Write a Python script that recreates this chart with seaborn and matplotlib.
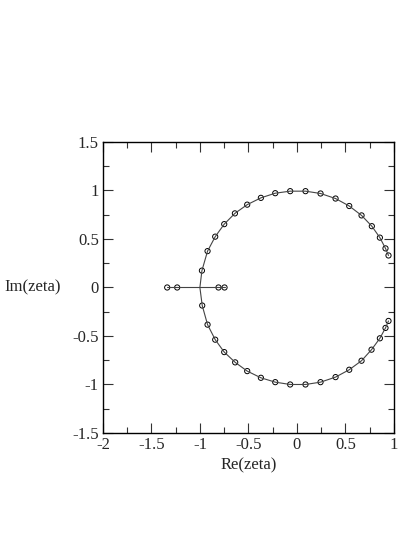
import numpy as np
import pandas as pd
import matplotlib
matplotlib.use('Agg')
import matplotlib.pyplot as plt
import seaborn as sns

# zeros on the unit circle, upper then lower half
re_upper = [-0.979, -0.921, -0.842, -0.749, -0.639, -0.512, -0.371, -0.223, -0.069,
            0.089, 0.244, 0.399, 0.540, 0.667, 0.773, 0.856, 0.914, 0.945]
im_upper = [0.174, 0.375, 0.524, 0.653, 0.764, 0.854, 0.924, 0.972, 0.993,
            0.993, 0.969, 0.917, 0.840, 0.743, 0.632, 0.514, 0.403, 0.330]
re_lower = [-0.976, -0.921, -0.842, -0.749, -0.636, -0.512, -0.371, -0.223, -0.069,
            0.089, 0.244, 0.399, 0.540, 0.667, 0.770, 0.856, 0.914, 0.945]
im_lower = [-0.186, -0.383, -0.538, -0.666, -0.772, -0.862, -0.931, -0.976, -1.0,
            -1.0, -0.976, -0.924, -0.848, -0.755, -0.641, -0.524, -0.417, -0.345]

# points on the real axis
re_axis = [-1.337, -1.234, -0.808, -0.746]
im_axis = [0.0, 0.0, 0.0, 0.0]

sns.set_style('ticks')
plt.rcParams['font.family'] = ['Liberation Serif', 'DejaVu Serif']
plt.rcParams['axes.unicode_minus'] = False

fig = plt.figure(figsize=(4.15, 5.37), dpi=100)
ax = fig.add_axes([0.248, 0.1937, 0.701, 0.5419])

# circle path: upper half reversed, through -1, then lower half
circ = pd.DataFrame({
    're': re_upper[::-1] + [-1.0] + re_lower,
    'im': im_upper[::-1] + [0.0] + im_lower,
})
sns.lineplot(data=circ, x='re', y='im', sort=False, estimator=None, errorbar=None,
             color='#444444', linewidth=0.8, ax=ax)

pts = pd.DataFrame({'re': re_upper + re_lower, 'im': im_upper + im_lower})
sns.scatterplot(data=pts, x='re', y='im', marker='o', s=14, facecolors='none',
                edgecolor='black', linewidth=0.7, ax=ax)

axis_df = pd.DataFrame({'re': re_axis, 'im': im_axis})
sns.lineplot(data=axis_df, x='re', y='im', sort=False, estimator=None, errorbar=None,
             color='#444444', linewidth=0.8, ax=ax)
sns.scatterplot(data=axis_df, x='re', y='im', marker='o', s=14, facecolors='none',
                edgecolor='black', linewidth=0.7, ax=ax)

ax.set_xlim(-2, 1)
ax.set_ylim(-1.5, 1.5)
ax.set_xticks(np.arange(-2, 1.01, 0.5))
ax.set_yticks(np.arange(-1.5, 1.51, 0.5))
ax.set_xticks(np.arange(-2, 1.01, 0.25), minor=True)
ax.set_yticks(np.arange(-1.5, 1.51, 0.25), minor=True)
ax.set_xticklabels(['-2', '-1.5', '-1', '-0.5', '0', '0.5', '1'])
ax.set_yticklabels(['-1.5', '-1', '-0.5', '0', '0.5', '1', '1.5'])
ax.tick_params(which='both', direction='in', top=True, right=True,
               labelsize=12, pad=3, width=0.8, color='#333333')
ax.tick_params(which='major', length=7)
ax.tick_params(which='minor', length=4)
for sp in ax.spines.values():
    sp.set_linewidth(1.0)
    sp.set_color('black')

ax.set_xlabel('Re(zeta)', fontsize=12, labelpad=3)
ax.set_ylabel('Im(zeta)', fontsize=12, rotation=0, labelpad=0, va='center')
ax.yaxis.set_label_coords(-0.24, 0.5)

fig.savefig('out.png', dpi=100)
